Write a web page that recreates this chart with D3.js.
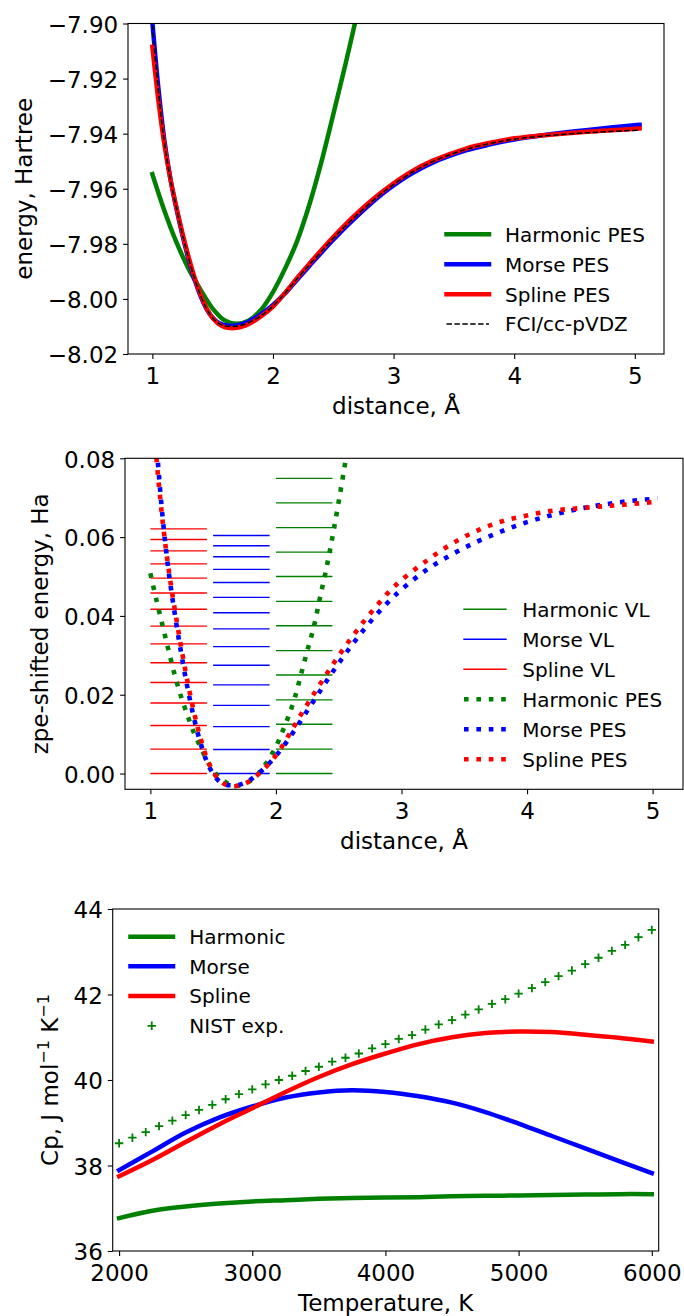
<!DOCTYPE html>
<html><head><meta charset="utf-8">
<script src="https://cdn.jsdelivr.net/npm/d3@7"></script>
<style>html,body{margin:0;padding:0;background:#fff;} svg{display:block;}</style>
</head><body><svg id="c" width="684" height="1316"></svg>
<script>
// ---------------- DATA ----------------
// Panel 1: potential energy surfaces (Hartree) vs distance (Å)
const pesR = [1.0,1.05,1.1,1.15,1.2,1.25,1.3,1.35,1.4,1.45,1.5,1.55,1.6,1.65,1.7,1.75,1.8,1.9,2.0,2.1,2.2,2.3,2.4,2.5,2.6,2.7,2.8,2.9,3.0,3.15,3.32,3.6,3.8,4.0,4.42,4.8,5.04];
const morsePES  = [-7.8995,-7.9235,-7.9425,-7.9565,-7.9673,-7.9770,-7.9856,-7.9930,-7.9990,-8.0037,-8.0068,-8.0087,-8.0095,-8.0097,-8.0096,-8.0091,-8.0082,-8.0056,-8.0022,-7.9980,-7.9930,-7.9881,-7.9832,-7.9785,-7.9740,-7.9698,-7.9658,-7.9621,-7.9588,-7.9545,-7.9506,-7.9461,-7.9439,-7.9421,-7.9396,-7.9378,-7.9368];
const splinePES = [-7.9084,-7.9280,-7.9440,-7.9566,-7.9668,-7.9762,-7.9847,-7.9922,-7.9985,-8.0035,-8.0070,-8.0091,-8.0102,-8.0106,-8.0105,-8.0100,-8.0091,-8.0064,-8.0028,-7.9978,-7.9924,-7.9873,-7.9823,-7.9775,-7.9730,-7.9688,-7.9649,-7.9613,-7.9580,-7.9537,-7.9499,-7.9454,-7.9433,-7.9417,-7.9399,-7.9388,-7.9381];
const fciPES    = [-7.9005,-7.9245,-7.9432,-7.9566,-7.9670,-7.9766,-7.9852,-7.9926,-7.9988,-8.0036,-8.0069,-8.0089,-8.0098,-8.0100,-8.0099,-8.0094,-8.0086,-8.0061,-8.0026,-7.9979,-7.9927,-7.9877,-7.9828,-7.9780,-7.9735,-7.9693,-7.9654,-7.9617,-7.9584,-7.9541,-7.9502,-7.9457,-7.9436,-7.9420,-7.9402,-7.9392,-7.9387];
const harmR   = [1.0,1.1,1.2,1.3,1.4,1.5,1.6,1.7,1.8,1.9,2.0,2.1,2.2,2.3,2.4,2.5,2.6,2.7];
const harmPES = [-7.9547,-7.9680,-7.9795,-7.9890,-7.9967,-8.0035,-8.0078,-8.0090,-8.0078,-8.0040,-7.9975,-7.9890,-7.9790,-7.9660,-7.9505,-7.9330,-7.9150,-7.8960];

// Panel 2: zpe-shifted PES (Ha) and vibrational levels
const midR = [1.0,1.05,1.1,1.15,1.2,1.25,1.3,1.35,1.4,1.45,1.5,1.55,1.6,1.65,1.7,1.75,1.8,1.9,2.0,2.1,2.2,2.3,2.4,2.5,2.6,2.7,2.8,2.9,3.0,3.2,3.4,3.6,3.8,4.0,4.2,4.4,4.6,4.8,5.04];
const splineShift = [0.0990,0.0794,0.0634,0.0508,0.0406,0.0312,0.0227,0.0152,0.0089,0.0039,0.0004,-0.0017,-0.0028,-0.0032,-0.0031,-0.0026,-0.0017,0.0010,0.0046,0.0096,0.0150,0.0201,0.0251,0.0299,0.0344,0.0386,0.0425,0.0461,0.0491,0.0540,0.0583,0.0616,0.0640,0.0655,0.0667,0.0673,0.0678,0.0683,0.0690];
const morseShift  = [0.1072,0.0832,0.0642,0.0502,0.0394,0.0297,0.0211,0.0137,0.0077,0.0030,-0.0001,-0.0020,-0.0028,-0.0030,-0.0029,-0.0024,-0.0015,0.0011,0.0045,0.0087,0.0135,0.0184,0.0233,0.0280,0.0324,0.0365,0.0403,0.0437,0.0467,0.0517,0.0556,0.0588,0.0615,0.0638,0.0656,0.0671,0.0682,0.0691,0.0698];
const harmMidR    = [1.0,1.05,1.1,1.15,1.2,1.25,1.3,1.35,1.4,1.45,1.5,1.55,1.6,1.65,1.7,1.75,1.8,1.85,1.9,1.95,2.0,2.05,2.1,2.15,2.2,2.25,2.3,2.35,2.4,2.45,2.5,2.55,2.6];
const harmShift   = [0.0508,0.0438,0.0372,0.0306,0.0243,0.0190,0.0144,0.0101,0.0067,0.0034,0.0008,-0.0010,-0.0022,-0.0029,-0.0031,-0.0026,-0.0018,-0.0004,0.0016,0.0040,0.0068,0.0105,0.0145,0.0192,0.0252,0.0312,0.0370,0.0445,0.0518,0.0600,0.0690,0.0785,0.0880];
const harmonicVL = [0,0.0062,0.0125,0.0187,0.0250,0.0312,0.0375,0.0437,0.0500,0.0562,0.0624,0.0687,0.0749];
const morseVL    = [0,0.0061,0.0119,0.0173,0.0225,0.0275,0.0322,0.0367,0.0408,0.0447,0.0485,0.0518,0.0550,0.0578,0.0604];
const splineVL   = [0,0.0062,0.0122,0.0179,0.0231,0.0281,0.0329,0.0374,0.0417,0.0458,0.0496,0.0532,0.0565,0.0594,0.0621];
const vlSpans = {harmonic:[2.0,2.45], morse:[1.5,1.95], spline:[1.0,1.45]};

// Panel 3: heat capacity
const tempK = [2000,2250,2500,2750,3000,3250,3500,3750,4000,4250,4500,4750,5000,5250,5500,5750,6000];
const harmonicCp = [36.77,36.94,37.04,37.11,37.16,37.19,37.22,37.24,37.25,37.26,37.28,37.29,37.30,37.31,37.32,37.33,37.33];
const morseCp    = [37.89,38.33,38.77,39.12,39.38,39.59,39.71,39.76,39.72,39.62,39.47,39.25,38.98,38.69,38.40,38.11,37.82];
const splineCp   = [37.75,38.13,38.55,38.96,39.34,39.72,40.07,40.37,40.62,40.84,41.00,41.10,41.135,41.12,41.06,40.99,40.90];
const nistT  = [2000,2100,2200,2300,2400,2500,2600,2700,2800,2900,3000,3100,3200,3300,3400,3500,3600,3700,3800,3900,4000,4100,4200,4300,4400,4500,4600,4700,4800,4900,5000,5100,5200,5300,5400,5500,5600,5700,5800,5900,6000];
const nistCp = [38.52,38.65,38.78,38.92,39.05,39.18,39.30,39.42,39.55,39.67,39.78,39.90,40.00,40.10,40.21,40.31,40.43,40.52,40.62,40.74,40.84,40.96,41.05,41.18,41.30,41.40,41.53,41.65,41.78,41.89,42.02,42.15,42.29,42.43,42.56,42.71,42.86,43.02,43.16,43.34,43.51];

const ticks1X = [1,2,3,4,5], ticks1Y = [-8.02,-8.00,-7.98,-7.96,-7.94,-7.92,-7.90];
const ticks2X = [1,2,3,4,5], ticks2Y = [0.00,0.02,0.04,0.06,0.08];
const ticks3X = [2000,3000,4000,5000,6000], ticks3Y = [36,38,40,42,44];

// ---------------- DRAWING ----------------
const FONT = "'DejaVu Sans', sans-serif";
const svg = d3.select("#c");
const GREEN = "#008000", BLUE = "#0000ff", RED = "#ff0000";

function makeAxes(id, box, xDom, yDom, xTicks, yTicks, xFmt, yFmt) {
  const x = d3.scaleLinear().domain(xDom).range([box.l, box.r]);
  const y = d3.scaleLinear().domain(yDom).range([box.b, box.t]);
  svg.append("clipPath").attr("id", "clip" + id).append("rect")
    .attr("x", box.l).attr("y", box.t).attr("width", box.r - box.l).attr("height", box.b - box.t);
  const plot = svg.append("g").attr("clip-path", `url(#clip${id})`);
  const gx = svg.append("g").attr("transform", `translate(0,${box.b})`)
    .call(d3.axisBottom(x).tickValues(xTicks).tickFormat(xFmt).tickSize(4.9).tickPadding(4.9).tickSizeOuter(0));
  gx.select(".domain").remove();
  gx.attr("font-size", 23).attr("font-family", FONT);
  gx.selectAll("text").attr("y", 29.5).attr("dy", null).attr("fill", "#000");
  gx.selectAll("line").attr("stroke", "#000").attr("stroke-width", 1.1);
  const gy = svg.append("g").attr("transform", `translate(${box.l},0)`)
    .call(d3.axisLeft(y).tickValues(yTicks).tickFormat(yFmt).tickSize(4.9).tickPadding(4.9).tickSizeOuter(0));
  gy.select(".domain").remove();
  gy.attr("font-size", 23).attr("font-family", FONT);
  gy.selectAll("text").attr("dy", "0.38em").attr("fill", "#000");
  gy.selectAll("line").attr("stroke", "#000").attr("stroke-width", 1.1);
  const frame = () => svg.append("rect").attr("x", box.l).attr("y", box.t)
    .attr("width", box.r - box.l).attr("height", box.b - box.t)
    .attr("fill", "none").attr("stroke", "#000").attr("stroke-width", 1.1);
  return {x, y, plot, frame};
}

function drawLine(g, xs, ys, sx, sy, color, width, dash, cap) {
  const pts = xs.map((v, i) => [v, ys[i]]);
  const path = g.append("path")
    .attr("d", d3.line().x(d => sx(d[0])).y(d => sy(d[1])).curve(d3.curveCatmullRom.alpha(0.5))(pts))
    .attr("fill", "none").attr("stroke", color).attr("stroke-width", width)
    .attr("stroke-linecap", cap || "square").attr("stroke-linejoin", "round");
  if (dash) path.attr("stroke-dasharray", dash);
  return path;
}

function legend(items, hx0, hx1, tx, rows) {
  const g = svg.append("g");
  items.forEach((it, i) => {
    const yy = rows[i];
    if (it.kind === "plus") {
      const cx = (hx0 + hx1) / 2, s = 4.2;
      g.append("path").attr("d", `M${cx - s},${yy}H${cx + s}M${cx},${yy - s}V${yy + s}`)
        .attr("stroke", it.color).attr("stroke-width", 1.8).attr("fill", "none");
    } else {
      const ln = g.append("line").attr("x1", hx0).attr("x2", hx1).attr("y1", yy).attr("y2", yy)
        .attr("stroke", it.color).attr("stroke-width", it.w)
        .attr("stroke-linecap", it.dash ? "butt" : "square");
      if (it.dash) ln.attr("stroke-dasharray", it.dash);
    }
    g.append("text").attr("x", tx).attr("y", yy + 7.3).text(it.label)
      .attr("font-family", FONT).attr("font-size", 20).attr("fill", "#000");
  });
}

function label(text, x, y, rot) {
  const t = svg.append("text").attr("font-family", FONT).attr("font-size", 23)
    .attr("text-anchor", "middle").attr("fill", "#000");
  t.attr("transform", `translate(${x},${y})` + (rot ? " rotate(-90)" : ""));
  if (typeof text === "string") t.text(text);
  else text(t);
  return t;
}

const f2 = d3.format(".2f");

// ---- Panel 1 ----
const A = makeAxes(1, {l:128, r:664, t:23.5, b:354}, [0.798, 5.242], [-8.02, -7.90],
  ticks1X, ticks1Y, d3.format("d"), f2);
drawLine(A.plot, harmR, harmPES, A.x, A.y, GREEN, 4.5);
drawLine(A.plot, pesR, morsePES, A.x, A.y, BLUE, 4.5);
drawLine(A.plot, pesR, splinePES, A.x, A.y, RED, 4.5);
drawLine(A.plot, pesR, fciPES, A.x, A.y, "#000", 1.5, "5.5,2.4", "butt");
A.frame();
legend([
  {label:"Harmonic PES", color:GREEN, w:4.5},
  {label:"Morse PES", color:BLUE, w:4.5},
  {label:"Spline PES", color:RED, w:4.5},
  {label:"FCI/cc-pVDZ", color:"#000", w:1.5, dash:"5.5,2.4"}
], 446.5, 489, 505, [234.3, 264.3, 294.2, 324]);
label("distance, Å", 396, 414, false);
label("energy, Hartree", 32, 188.8, true);

// ---- Panel 2 ----
const B = makeAxes(2, {l:125, r:683, t:458.3, b:789.3}, [0.798, 5.242], [-0.004, 0.08],
  ticks2X, ticks2Y, d3.format("d"), f2);
function drawVL(levels, span, color) {
  B.plot.append("g").selectAll("line").data(levels).join("line")
    .attr("x1", B.x(span[0])).attr("x2", B.x(span[1]))
    .attr("y1", d => B.y(d)).attr("y2", d => B.y(d))
    .attr("stroke", color).attr("stroke-width", 1.4);
}
drawVL(harmonicVL, vlSpans.harmonic, GREEN);
drawVL(morseVL, vlSpans.morse, BLUE);
drawVL(splineVL, vlSpans.spline, RED);
const DOT = "4.6,7.8";
drawLine(B.plot, harmMidR, harmShift, B.x, B.y, GREEN, 4.6, DOT, "butt");
drawLine(B.plot, midR, morseShift, B.x, B.y, BLUE, 4.6, DOT, "butt");
drawLine(B.plot, midR, splineShift, B.x, B.y, RED, 4.6, DOT, "butt");
B.frame();
legend([
  {label:"Harmonic VL", color:GREEN, w:1.4},
  {label:"Morse VL", color:BLUE, w:1.4},
  {label:"Spline VL", color:RED, w:1.4},
  {label:"Harmonic PES", color:GREEN, w:4.6, dash:DOT},
  {label:"Morse PES", color:BLUE, w:4.6, dash:DOT},
  {label:"Spline PES", color:RED, w:4.6, dash:DOT}
], 464, 506, 522.3, [609.3, 639.3, 669.3, 699.3, 729.3, 759.3]);
label("distance, Å", 404, 849, false);
label("zpe-shifted energy, Ha", 48, 623.8, true);

// ---- Panel 3 ----
const C = makeAxes(3, {l:112.7, r:658.7, t:909, b:1251}, [1952, 6052], [36, 44],
  ticks3X, ticks3Y, d3.format("d"), d3.format("d"));
drawLine(C.plot, tempK, harmonicCp, C.x, C.y, GREEN, 4.5);
drawLine(C.plot, tempK, morseCp, C.x, C.y, BLUE, 4.5);
drawLine(C.plot, tempK, splineCp, C.x, C.y, RED, 4.5);
C.plot.append("g").selectAll("path").data(nistT.map((t, i) => [t, nistCp[i]])).join("path")
  .attr("d", d => { const cx = C.x(d[0]), cy = C.y(d[1]), s = 4.2;
    return `M${cx - s},${cy}H${cx + s}M${cx},${cy - s}V${cy + s}`; })
  .attr("stroke", GREEN).attr("stroke-width", 1.8).attr("fill", "none");
C.frame();
legend([
  {label:"Harmonic", color:GREEN, w:4.5},
  {label:"Morse", color:BLUE, w:4.5},
  {label:"Spline", color:RED, w:4.5},
  {label:"NIST exp.", kind:"plus", color:GREEN}
], 130.5, 173, 189.3, [936.7, 966.3, 996, 1025.8]);
label("Temperature, K", 385.7, 1311, false);
label(t => {
  t.append("tspan").text("Cp, J mol");
  t.append("tspan").text("−1").attr("font-size", 16).attr("dy", -9);
  t.append("tspan").text(" K").attr("dy", 9);
  t.append("tspan").text("−1").attr("font-size", 16).attr("dy", -9);
}, 57.5, 1080, true);
</script></body></html>
